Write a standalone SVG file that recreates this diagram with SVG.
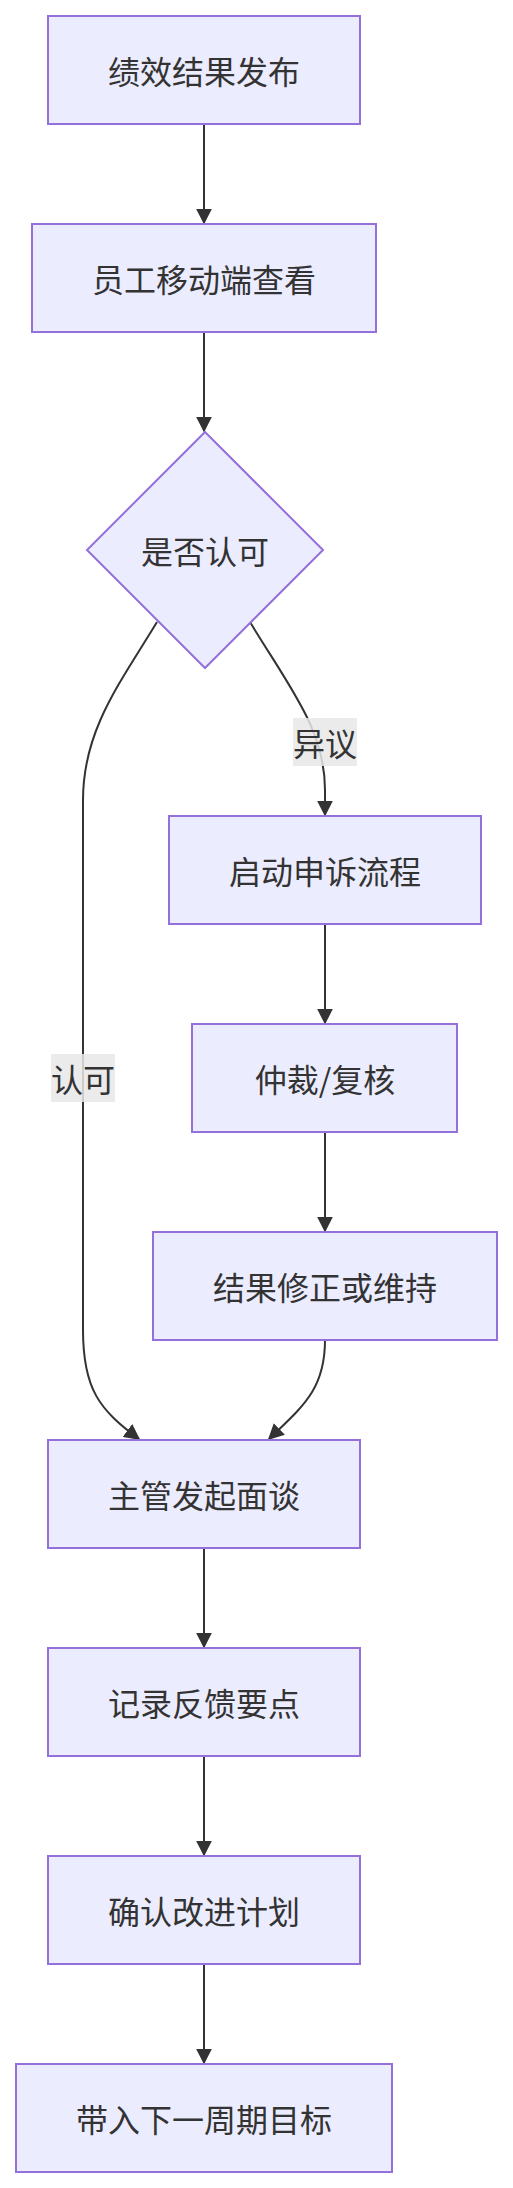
<svg xmlns="http://www.w3.org/2000/svg" width="513" height="2188" viewBox="0 0 513 2188">
<style>
.node rect,.node polygon{fill:#ECECFF;stroke:#9370DB;stroke-width:2}
.node text,.lbl text{font-family:"Noto Sans CJK SC","Noto Sans",sans-serif;font-size:32px;fill:#333333;text-anchor:middle;dominant-baseline:central}
.edge{fill:none;stroke:#333333;stroke-width:2;marker-end:url(#arrow)}
.lbl rect{fill:#e8e8e8;opacity:0.85}
</style>
<defs>
<marker id="arrow" viewBox="0 0 10 10" refX="9" refY="5" markerWidth="16" markerHeight="16" markerUnits="userSpaceOnUse" orient="auto">
<path d="M0,0 L10,5 L0,10 z" fill="#333333"/>
</marker>
</defs>
<rect width="513" height="2188" fill="#ffffff"/>
<g id="connectors">
<path class="edge" d="M204,124 L204,223"/>
<path class="edge" d="M204,332 L204,431"/>
<path class="edge" d="M250,622 C290,688 325,730 325,790 L325,815"/>
<path class="edge" d="M157,622 C120,683 83,730 83,800 L83,1330 C83,1390 100,1410 139,1439"/>
<path class="edge" d="M325,924 L325,1023"/>
<path class="edge" d="M325,1132 L325,1231"/>
<path class="edge" d="M325,1340 C325,1390 302,1407 269,1439"/>
<path class="edge" d="M204,1548 L204,1647"/>
<path class="edge" d="M204,1756 L204,1855"/>
<path class="edge" d="M204,1964 L204,2063"/>
<g class="lbl" id="label-yiyi"><rect x="293" y="718" width="64" height="48"/><text x="325" y="742">异议</text></g>
<g class="lbl" id="label-renke"><rect x="51" y="1054" width="64" height="48"/><text x="83" y="1078">认可</text></g>
</g>
<g class="node" id="n1"><rect x="48" y="16" width="312" height="108"/><text x="204" y="70">绩效结果发布</text></g>
<g class="node" id="n2"><rect x="32" y="224" width="344" height="108"/><text x="204" y="278">员工移动端查看</text></g>
<g class="node" id="n3"><polygon points="205,432 323,550 205,668 87,550"/><text x="205" y="550">是否认可</text></g>
<g class="node" id="n4"><rect x="169" y="816" width="312" height="108"/><text x="325" y="870">启动申诉流程</text></g>
<g class="node" id="n5"><rect x="192" y="1024" width="265" height="108"/><text x="325" y="1078">仲裁/复核</text></g>
<g class="node" id="n6"><rect x="153" y="1232" width="344" height="108"/><text x="325" y="1286">结果修正或维持</text></g>
<g class="node" id="n7"><rect x="48" y="1440" width="312" height="108"/><text x="204" y="1494">主管发起面谈</text></g>
<g class="node" id="n8"><rect x="48" y="1648" width="312" height="108"/><text x="204" y="1702">记录反馈要点</text></g>
<g class="node" id="n9"><rect x="48" y="1856" width="312" height="108"/><text x="204" y="1910">确认改进计划</text></g>
<g class="node" id="n10"><rect x="16" y="2064" width="376" height="108"/><text x="204" y="2118">带入下一周期目标</text></g>
</svg>
